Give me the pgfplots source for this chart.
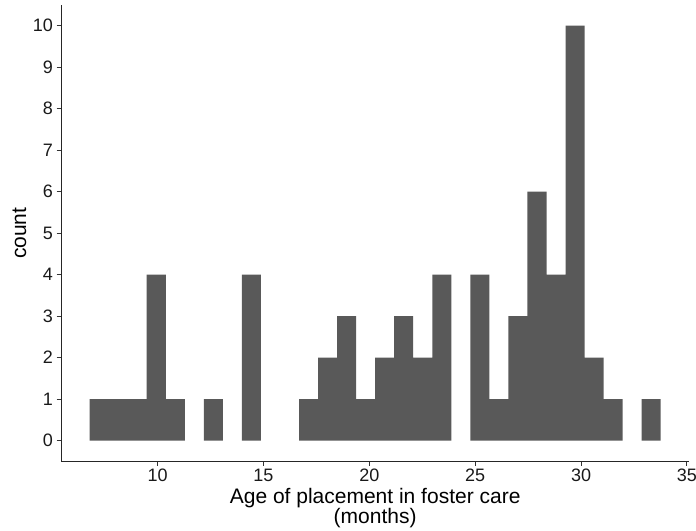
\documentclass[border=0pt]{standalone}
\usepackage{pgfplots}
\pgfplotsset{compat=1.18}
\usepackage{fontspec}
\setmainfont{Liberation Sans}

\definecolor{barfill}{HTML}{595959}
\definecolor{axisgrey}{HTML}{333333}

% Histogram: 30 bins of width 0.899 months; bin centre and count
\pgfplotstableread{
mid    count
7.240  1
8.139  1
9.038  1
9.937  4
10.836 1
11.735 0
12.634 1
13.533 0
14.432 4
15.331 0
16.230 0
17.129 1
18.028 2
18.927 3
19.826 1
20.725 2
21.624 3
22.523 2
23.422 4
24.321 0
25.220 4
26.119 1
27.018 3
27.917 6
28.816 4
29.715 10
30.614 2
31.513 1
32.412 0
33.311 1
}\agedata

\begin{document}
\begin{tikzpicture}[x=1bp,y=1bp]
\path[use as bounding box] (0,0) rectangle (696,531);
\begin{axis}[
  at={(61bp,69.6bp)}, anchor=south west,
  scale only axis, width=628.3bp, height=456.4bp,
  xmin=5.44, xmax=35.11, ymin=-0.5, ymax=10.5,
  axis lines=left,
  axis line style={-, line width=1bp, color=black!85},
  xtick={10,15,20,25,30,35},
  ytick={0,1,2,3,4,5,6,7,8,9,10},
  tick align=outside,
  major tick length=4.5bp,
  tick style={line width=1bp, color=axisgrey},
  /pgf/number format/assume math mode=true,
  tick label style={font=\fontsize{18bp}{18bp}\selectfont, text=black!90},
  xlabel={Age of placement in foster care\\(months)},
  xlabel style={font=\fontsize{21bp}{18bp}\selectfont, align=center,
    at={(axis description cs:0.5,0)}, anchor=north, inner sep=0pt, yshift=-26.6bp},
  ylabel={count},
  ylabel style={font=\fontsize{21bp}{21bp}\selectfont,
    at={(axis description cs:-0.0660,0.5)}, anchor=center, inner sep=0pt},
]
% empty bins are left out so nothing is drawn for them
\addplot[ybar, bar width=0.899, bar shift=0pt, fill=barfill, draw=none,
  restrict y to domain=0.5:20]
  table[x=mid, y=count] {\agedata};
\end{axis}
\end{tikzpicture}
\end{document}
